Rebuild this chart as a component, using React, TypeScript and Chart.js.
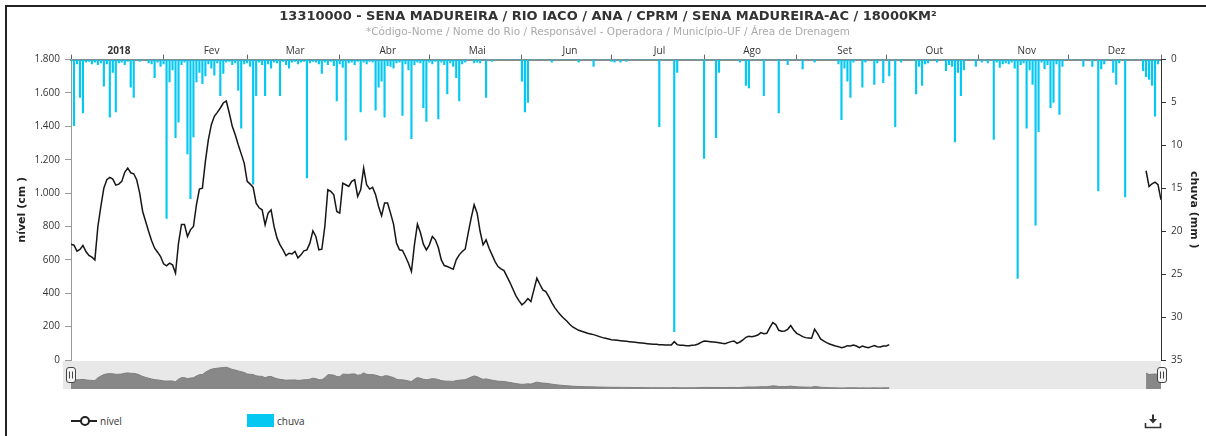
import React, { useEffect, useRef } from 'react';
import { Chart, registerables } from 'chart.js';

Chart.register(...registerables);

// ---- Labels / axes ----
const titleText = '13310000 - SENA MADUREIRA / RIO IACO / ANA / CPRM / SENA MADUREIRA-AC / 18000KM²';
const subtitleText = '*Código-Nome / Nome do Rio / Responsável - Operadora / Município-UF / Área de Drenagem';
const monthLabels = ['2018', 'Fev', 'Mar', 'Abr', 'Mai', 'Jun', 'Jul', 'Ago', 'Set', 'Out', 'Nov', 'Dez'];
const monthStarts = [0, 31, 59, 90, 120, 151, 181, 212, 243, 273, 304, 334];
const yearEnd = 365;
const nivelMax = 1800;
const nivelStep = 200;
const chuvaMax = 35;
const chuvaStep = 5;

// ---- chuva (mm), daily, one array per month ----
const chuvaJan = [0.3, 7.7, 0.5, 4.4, 6.2, 0.3, 0.2, 0.5, 0.3, 0.6, 0.4, 3.1, 0.5, 6.7, 1.5, 6.1, 0.4, 0.3, 0.6, 0.2, 3.2, 4.4, 0, 0.2, 0, 0, 0.4, 0.5, 2.1, 0.3, 0.8];
const chuvaFev = [0.5, 18.5, 2.6, 1.2, 9.1, 7.3, 0.6, 0.3, 11, 16.2, 9, 2.6, 1.5, 2.8, 1.9, 0.5, 1.0, 1.8, 0.4, 4.2, 1.6, 0.3, 0.2, 0.6, 0.4, 3.6, 8.0, 0.5];
const chuvaMar = [0.4, 0.8, 14.5, 4.2, 0.3, 0.6, 4.2, 0.5, 1.0, 0.3, 0.4, 4.2, 0.2, 0.6, 1.0, 0.3, 0.2, 0.5, 0.3, 0.2, 13.8, 0.4, 0.2, 0.3, 0.5, 1.6, 0.3, 0.6, 0.2, 0.7, 4.8];
const chuvaAbr = [0.5, 0.9, 9.4, 0.4, 0.3, 0.6, 0.2, 6.1, 0.3, 0.5, 0.2, 0.3, 5.9, 3.2, 2.5, 6.7, 0.7, 0.8, 1.0, 0.4, 0.3, 6.5, 0.5, 1.2, 9.2, 0.6, 0.3, 0.4, 5.6, 7.2];
const chuvaMai = [0.3, 0.5, 0.2, 6.9, 0.3, 0.6, 4.0, 0.4, 0.8, 2.1, 4.8, 0.5, 0.3, 0, 0, 0.4, 0.3, 0.4, 0, 4.4, 0, 0.2, 0, 0, 0, 0, 0, 0, 0, 0, 0];
const chuvaJun = [2.5, 6.1, 5.0, 0, 0, 0, 0, 0, 0, 0, 0.3, 0, 0, 0, 0, 0, 0, 0, 0, 0.3, 0, 0, 0, 0, 0.8, 0, 0, 0, 0, 0];
const chuvaJul = [0.2, 0.3, 0, 0.3, 0, 0.2, 0, 0, 0, 0, 0, 0, 0, 0, 0, 0, 7.8, 0, 0, 0, 0, 31.7, 1.5, 0, 0, 0, 0, 0, 0, 0, 0];
const chuvaAgo = [11.5, 0, 0, 0, 9.1, 1.5, 0, 0, 0, 0, 0, 0, 0.3, 0, 3.0, 3.3, 0, 0, 0, 0, 4.2, 0, 0, 0, 0, 6.2, 0, 0, 0.6, 0, 0];
const chuvaSet = [0, 0, 1.1, 0, 0, 0, 0.3, 0, 0, 0, 0, 0, 0, 0, 0.5, 7.0, 1.0, 2.5, 4.4, 0.3, 0, 0, 3.2, 0.3, 0, 0, 2.9, 0.4, 0, 2.7];
const chuvaOut = [0, 1.9, 0, 7.8, 0, 0.3, 0, 0, 0, 0, 4.0, 0.8, 3.0, 0.5, 0.4, 0, 0, 0.3, 0, 0, 1.3, 0.6, 0.8, 9.6, 1.5, 4.2, 1.2, 0, 0, 0, 0.8];
const chuvaNov = [0, 0.3, 0, 0.4, 0, 9.3, 0.3, 0.9, 0.5, 0.4, 0.5, 0.3, 1.0, 25.5, 0.6, 0.4, 8.0, 1.2, 2.9, 19.3, 8.4, 0.3, 1.1, 0.6, 5.6, 5.0, 0.5, 6.4, 0.8, 0];
const chuvaDez = [0, 0, 0, 0, 0, 0.8, 0, 0, 0.8, 0, 15.3, 1.1, 0.5, 0, 0, 1.5, 2.9, 0.4, 0, 16.0, 0, 0, 0, 0, 0, 1.3, 2.0, 2.3, 3.0, 6.6, 0.5];

// ---- nível (cm), daily, one array per month ----
const nivelJan = [694, 688, 652, 662, 686, 650, 626, 616, 600, 800, 920, 1030, 1080, 1094, 1084, 1048, 1054, 1070, 1125, 1150, 1122, 1116, 1080, 1000, 890, 830, 770, 714, 670, 646, 620];
const nivelFev = [576, 564, 580, 570, 520, 700, 812, 812, 740, 780, 800, 930, 1024, 1030, 1190, 1320, 1410, 1460, 1484, 1510, 1540, 1552, 1480, 1400, 1350, 1290, 1235, 1180];
const nivelMar = [1070, 1054, 1034, 940, 912, 900, 810, 880, 900, 800, 730, 690, 660, 626, 640, 636, 650, 612, 630, 654, 660, 700, 774, 740, 660, 664, 800, 1020, 1010, 990, 890];
const nivelAbr = [880, 1060, 1050, 1040, 1070, 1080, 980, 1020, 1150, 1050, 1024, 1034, 990, 920, 864, 940, 940, 880, 814, 700, 660, 656, 620, 580, 530, 690, 814, 764, 694, 660];
const nivelMai = [690, 740, 720, 674, 600, 566, 560, 552, 544, 600, 630, 650, 664, 760, 850, 930, 880, 770, 690, 720, 670, 630, 590, 560, 546, 536, 500, 464, 424, 384, 356];
const nivelJun = [330, 346, 368, 350, 420, 490, 454, 420, 410, 380, 344, 314, 290, 268, 250, 234, 214, 198, 188, 178, 172, 166, 160, 156, 152, 146, 140, 134, 130, 126];
const nivelJul = [122, 120, 118, 116, 114, 112, 110, 108, 106, 104, 102, 100, 98, 96, 94, 94, 92, 92, 90, 90, 90, 110, 92, 88, 88, 86, 86, 88, 90, 96, 106];
const nivelAgo = [114, 112, 110, 108, 106, 104, 100, 98, 104, 110, 114, 100, 108, 120, 136, 142, 140, 144, 150, 164, 158, 160, 194, 224, 212, 178, 172, 174, 184, 206, 180];
const nivelSet = [160, 150, 140, 134, 132, 130, 184, 158, 126, 114, 104, 96, 90, 84, 80, 74, 78, 86, 84, 90, 84, 74, 84, 78, 74, 80, 86, 80, 78, 84];
const nivelOut = [84, 92];
const nivelDezFim = [1134, 1040, 1056, 1066, 1050, 960];
const nivelDezFimInicio = 360;

// ---- build library data from the arrays ----
const chuvaMeses = [chuvaJan, chuvaFev, chuvaMar, chuvaAbr, chuvaMai, chuvaJun, chuvaJul, chuvaAgo, chuvaSet, chuvaOut, chuvaNov, chuvaDez];
const nivelMeses = [nivelJan, nivelFev, nivelMar, nivelAbr, nivelMai, nivelJun, nivelJul, nivelAgo, nivelSet, nivelOut];

const chuvaPoints = chuvaMeses.flatMap((arr, m) => arr.map((v, i) => ({ x: monthStarts[m] + i, y: v })));
const nivelHead = nivelMeses.flatMap((arr, m) => arr.map((v, i) => ({ x: monthStarts[m] + i, y: v as number | null })));
const nivelPoints = [
  ...nivelHead,
  { x: nivelHead[nivelHead.length - 1].x + 1, y: null },
  ...nivelDezFim.map((v, i) => ({ x: nivelDezFimInicio + i, y: v as number | null })),
];

const SMALL = '"Open Sans", "DejaVu Sans", sans-serif';
const BOLDF = '"DejaVu Sans", sans-serif';
const fmtThousands = (v: number) => String(v).replace(/\B(?=(\d{3})+(?!\d))/g, '.');

const W = 1206;
const PLOT_LEFT = 71;
const PLOT_RIGHT = 1161;
const PLOT_TOP = 59;
const MAIN_H = 371;

export default function App() {
  const mainRef = useRef<HTMLCanvasElement | null>(null);
  const navRef = useRef<HTMLCanvasElement | null>(null);

  useEffect(() => {
    if (!mainRef.current || !navRef.current) return;

    const main = new Chart(mainRef.current, {
      data: {
        datasets: [
          {
            type: 'line',
            label: 'nível',
            data: nivelPoints as any,
            xAxisID: 'x',
            yAxisID: 'y',
            borderColor: '#161616',
            borderWidth: 1.5,
            pointRadius: 0,
            spanGaps: false,
            tension: 0,
            order: 1,
          } as any,
          {
            type: 'bar',
            label: 'chuva',
            data: chuvaPoints as any,
            xAxisID: 'x',
            yAxisID: 'yRain',
            backgroundColor: '#05c8f2',
            borderWidth: 0,
            barThickness: 1.5,
            order: 2,
          } as any,
        ],
      },
      options: {
        responsive: false,
        animation: false,
        devicePixelRatio: 1,
        events: [],
        layout: { padding: { left: 14, right: 4, top: 0, bottom: 7 } },
        plugins: {
          legend: { display: false },
          tooltip: { enabled: false },
          title: {
            display: true,
            text: titleText,
            color: '#333',
            font: { family: BOLDF, size: 13, weight: 'bold' },
            padding: { top: 9, bottom: 0 },
          },
          subtitle: {
            display: true,
            text: subtitleText,
            color: '#aaa',
            font: { family: BOLDF, size: 10.5 },
            padding: { top: 1, bottom: 0 },
          },
        },
        scales: {
          x: {
            type: 'linear',
            display: false,
            offset: false,
            grid: { offset: false },
            min: 0,
            max: yearEnd,
          },
          xTop: {
            type: 'linear',
            position: 'top',
            offset: false,
            min: 0,
            max: yearEnd,
            afterBuildTicks: (s: any) => {
              s.ticks = [...monthStarts, yearEnd].map((v) => ({ value: v }));
            },
            afterFit: (s: any) => {
              s.height = PLOT_TOP - 37.6;
            },
            grid: { drawOnChartArea: false, drawTicks: true, tickLength: 5, tickColor: '#666', tickWidth: 1, offset: false },
            border: { display: true, color: '#8c8c8c', width: 2 },
            ticks: {
              autoSkip: false,
              maxRotation: 0,
              minRotation: 0,
              labelOffset: 48,
              padding: -2.5,
              color: '#333',
              font: (ctx: any) => ({ family: SMALL, size: 10, weight: ctx.index === 0 ? 'bold' : 'normal' }),
              callback: (_v: any, i: number) => monthLabels[i] ?? '',
            },
          },
          y: {
            type: 'linear',
            position: 'left',
            min: 0,
            max: nivelMax,
            afterFit: (s: any) => {
              s.width = PLOT_LEFT - 14;
            },
            grid: { drawOnChartArea: false, drawTicks: true, tickLength: 6, tickColor: '#999' },
            border: { display: true, color: '#999', width: 1 },
            ticks: {
              stepSize: nivelStep,
              padding: 5,
              color: '#333',
              font: { family: SMALL, size: 10 },
              callback: (v: any) => fmtThousands(Number(v)),
            },
            title: {
              display: true,
              text: 'nível (cm )',
              color: '#222',
              font: { family: BOLDF, size: 11, weight: 'bold' },
              padding: { top: 2, bottom: 0 },
            },
          },
          yRain: {
            type: 'linear',
            position: 'right',
            reverse: true,
            min: 0,
            max: chuvaMax,
            afterFit: (s: any) => {
              s.width = W - 4 - PLOT_RIGHT;
            },
            grid: { drawOnChartArea: false, drawTicks: true, tickLength: 5, tickColor: '#333' },
            border: { display: true, color: '#333', width: 1 },
            ticks: {
              stepSize: chuvaStep,
              padding: 5,
              color: '#333',
              font: { family: SMALL, size: 10 },
            },
            title: {
              display: true,
              text: 'chuva (mm )',
              color: '#222',
              font: { family: BOLDF, size: 11, weight: 'bold' },
              padding: { top: 2, bottom: 0 },
            },
          },
        },
      } as any,
    });

    const navBg = {
      id: 'navBg',
      beforeDatasetsDraw(chart: any) {
        const { ctx, chartArea } = chart;
        ctx.save();
        ctx.fillStyle = '#e8e8e8';
        ctx.fillRect(chartArea.left - 8, chartArea.top, chartArea.right - chartArea.left + 8, chartArea.bottom - chartArea.top);
        ctx.restore();
      },
      afterDraw(chart: any) {
        const { ctx, chartArea } = chart;
        const hw = 9;
        const hh = 15;
        const yTop = chartArea.top + 6;
        [chartArea.left - 0.5, chartArea.right + 0.5].forEach((cx) => {
          const x0 = Math.round(cx - hw / 2) + 0.5;
          const y0 = Math.round(yTop) + 0.5;
          ctx.save();
          ctx.beginPath();
          const r = 2.5;
          ctx.moveTo(x0 + r, y0);
          ctx.lineTo(x0 + hw - r, y0);
          ctx.quadraticCurveTo(x0 + hw, y0, x0 + hw, y0 + r);
          ctx.lineTo(x0 + hw, y0 + hh - r);
          ctx.quadraticCurveTo(x0 + hw, y0 + hh, x0 + hw - r, y0 + hh);
          ctx.lineTo(x0 + r, y0 + hh);
          ctx.quadraticCurveTo(x0, y0 + hh, x0, y0 + hh - r);
          ctx.lineTo(x0, y0 + r);
          ctx.quadraticCurveTo(x0, y0, x0 + r, y0);
          ctx.fillStyle = '#f4f4f4';
          ctx.fill();
          ctx.strokeStyle = '#444';
          ctx.lineWidth = 1;
          ctx.stroke();
          ctx.beginPath();
          ctx.moveTo(x0 + 3, y0 + 4);
          ctx.lineTo(x0 + 3, y0 + hh - 4);
          ctx.moveTo(x0 + 6, y0 + 4);
          ctx.lineTo(x0 + 6, y0 + hh - 4);
          ctx.strokeStyle = '#444';
          ctx.stroke();
          ctx.restore();
        });
      },
    };

    const nav = new Chart(navRef.current, {
      type: 'line',
      data: {
        datasets: [
          {
            label: 'nível',
            data: nivelPoints as any,
            borderColor: '#7d7d7d',
            borderWidth: 1,
            backgroundColor: '#888888',
            fill: 'origin',
            pointRadius: 0,
            spanGaps: false,
            tension: 0,
          } as any,
        ],
      },
      options: {
        responsive: false,
        animation: false,
        devicePixelRatio: 1,
        events: [],
        layout: { padding: { left: PLOT_LEFT, right: W - PLOT_RIGHT, top: 1, bottom: 2 } },
        plugins: { legend: { display: false }, tooltip: { enabled: false } },
        scales: {
          x: { type: 'linear', display: false, min: 0, max: yearEnd },
          y: { type: 'linear', display: false, min: 0, max: 2000 },
        },
      } as any,
      plugins: [navBg],
    });

    return () => {
      main.destroy();
      nav.destroy();
    };
  }, []);

  return (
    <div style={{ position: 'absolute', left: 0, top: 0, width: W, height: 436, overflow: 'hidden', background: '#fff' }}>
      <div
        style={{
          position: 'absolute',
          left: 5,
          top: 5,
          width: 1300,
          height: 500,
          borderTop: '2px solid #222',
          borderLeft: '2px solid #222',
        }}
      />
      <canvas ref={mainRef} width={W} height={MAIN_H} style={{ position: 'absolute', left: 0, top: 0 }} />
      <canvas ref={navRef} width={W} height={31} style={{ position: 'absolute', left: 0, top: 360 }} />
      {/* legend */}
      <div style={{ position: 'absolute', left: 71, top: 420, width: 26, height: 1.5, background: '#222' }} />
      <div
        style={{
          position: 'absolute',
          left: 79.5,
          top: 416,
          width: 6,
          height: 6,
          borderRadius: '50%',
          border: '2px solid #222',
          background: '#fff',
        }}
      />
      <div style={{ position: 'absolute', left: 100, top: 414, lineHeight: '14px', fontFamily: SMALL, fontSize: 10, color: '#333' }}>
        nível
      </div>
      <div style={{ position: 'absolute', left: 247, top: 414, width: 27, height: 13, background: '#05c8f2' }} />
      <div style={{ position: 'absolute', left: 277, top: 414, lineHeight: '14px', fontFamily: SMALL, fontSize: 10, color: '#333' }}>
        chuva
      </div>
      {/* export icon */}
      <svg width="18" height="16" style={{ position: 'absolute', left: 1144, top: 413 }}>
        <path d="M9 1.5 V8" stroke="#333" strokeWidth="2" />
        <path d="M5 6 L9 10.5 L13 6 Z" fill="#333" />
        <path d="M1.5 10 V14.5 H16.5 V10" stroke="#333" strokeWidth="1.6" fill="none" />
      </svg>
    </div>
  );
}
